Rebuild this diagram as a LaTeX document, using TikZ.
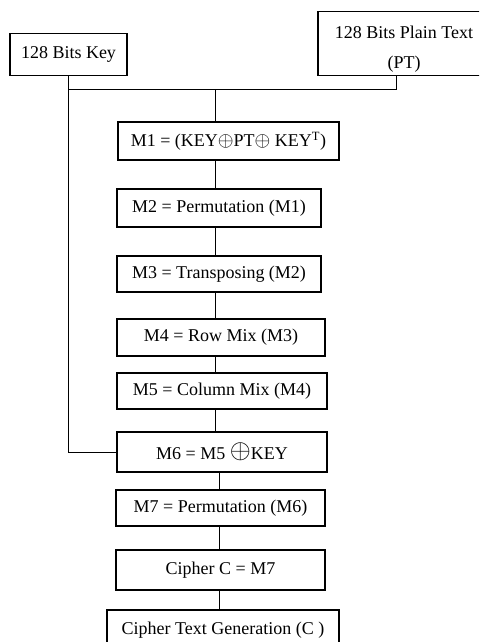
\documentclass[tikz,border=0pt]{standalone}
\usepackage{fontspec}
\setmainfont{Liberation Serif}
\begin{document}
\begin{tikzpicture}[
    font=\fontsize{12.8}{21}\selectfont,
    stage/.style={rectangle, draw, line width=0.8pt, minimum width=5.2cm, minimum height=0.92cm, inner sep=2pt},
    input/.style={stage, minimum height=1.03cm},
    link/.style={line width=0.7pt}
]
\useasboundingbox (0,0) rectangle (11.975,-16.05);
\clip (0,0) rectangle (11.975,-16.05);
\node[input, minimum width=2.925cm] (key) at (1.7125,-1.3625) {128 Bits Key};
\node[input, minimum width=4.3cm, minimum height=1.575cm] (pt) at (10.1,-1.0875) {\raisebox{-0.1cm}[\height][\depth]{\begin{tabular}{@{}c@{}}128 Bits Plain Text\\(PT)\end{tabular}}};
\node[stage, minimum width=5.525cm, minimum height=0.95cm] (m1) at (5.7125,-3.525) {M1 = (KEY\scalebox{1.2}{$\oplus$}PT\scalebox{1.2}{$\oplus$} KEY\textsuperscript{T})};
\node[stage, minimum width=5.1cm, minimum height=0.95cm] (m2) at (5.475,-5.2) {M2 = Permutation (M1)};
\node[stage, minimum width=5.1cm, minimum height=0.9cm] (m3) at (5.475,-6.85) {M3 = Transposing (M2)};
\node[stage, minimum width=5.2cm, minimum height=0.925cm] (m4) at (5.525,-8.4375) {M4 = Row Mix (M3)};
\node[stage, minimum width=5.25cm, minimum height=0.9cm] (m5) at (5.55,-9.775) {M5 = Column Mix (M4)};
\node[stage, minimum width=5.25cm, minimum height=1.0cm] (m6) at (5.55,-11.3) {M6 = M5 \raisebox{0.02cm}{\scalebox{1.6}{$\oplus$}}KEY};
\node[stage, minimum width=5.225cm, minimum height=0.9cm] (m7) at (5.5125,-12.7) {M7 = Permutation (M6)};
\node[stage, minimum width=5.225cm, minimum height=1.0cm] (cipher) at (5.5125,-14.25) {Cipher C = M7};
\node[stage, minimum width=5.8cm, minimum height=1.0cm] (out) at (5.575,-15.75) {Cipher Text Generation (C )};

\coordinate (join) at (5.375,-2.225);
\coordinate (low) at (5.475,-11.3);

\draw[link] ([xshift=-0.2cm]pt.south) |- (key.south |- join);
\draw[link] (key.south) |- (m6.west);
\draw[link] (join) -- (m1.north -| join);
\draw[link] (m1.south -| join) -- (m2.north -| join);
\draw[link] (m2.south -| join) -- (m3.north -| join);
\draw[link] (m3.south -| join) -- (m4.north -| join);
\draw[link] (m4.south -| join) -- (m5.north -| join);
\draw[link] (m5.south -| join) -- (m6.north -| join);
\draw[link] (m6.south -| low) -- (m7.north -| low);
\draw[link] (m7.south -| low) -- (cipher.north -| low);
\draw[link] (cipher.south -| low) -- (out.north -| low);
\end{tikzpicture}
\end{document}
